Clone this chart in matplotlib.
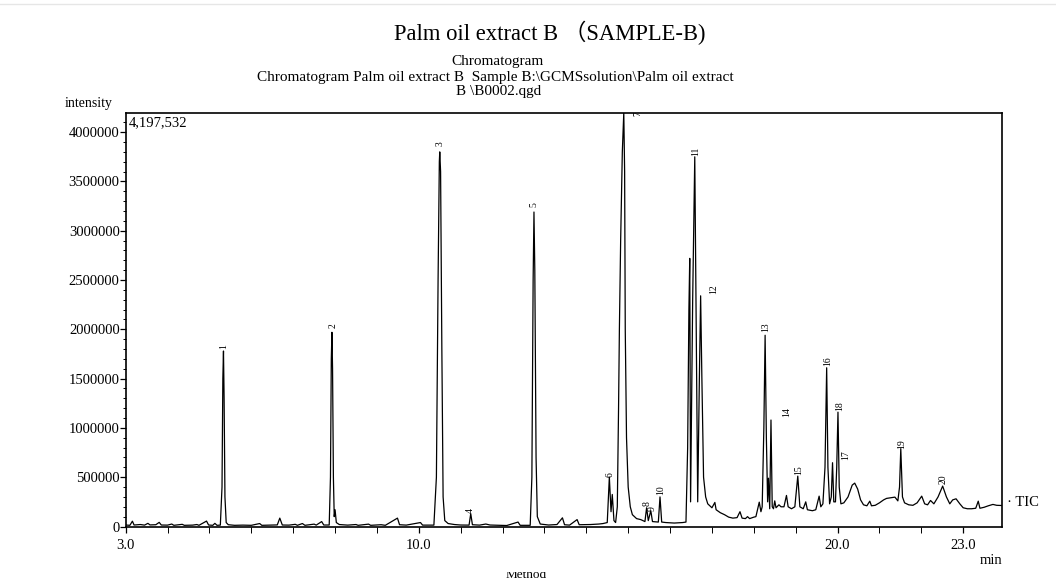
import matplotlib
matplotlib.use("Agg")
import matplotlib.pyplot as plt
from matplotlib.ticker import MultipleLocator, FixedLocator, FixedFormatter
from matplotlib.lines import Line2D
from matplotlib.patches import Rectangle

plt.rcParams['font.family'] = ['Liberation Serif', 'Noto Sans CJK SC', 'DejaVu Sans']

# ---------------- data ----------------
time_min = [
    3.00, 3.10, 3.16, 3.20, 3.35, 3.45, 3.53, 3.58, 3.72, 3.80, 3.85, 4.00, 4.10, 4.15,
    4.35, 4.40, 4.60, 4.70, 4.75, 4.93, 4.98, 5.08, 5.13, 5.18,
    5.26, 5.30, 5.32, 5.335, 5.35, 5.37, 5.40, 5.45,
    5.60, 5.80, 6.00, 6.20, 6.25, 6.45, 6.62, 6.68, 6.74, 6.90, 7.05, 7.10, 7.22, 7.28,
    7.50, 7.55, 7.68, 7.73,
    7.86, 7.89, 7.91, 7.925, 7.94, 7.96, 7.98, 8.00, 8.03, 8.10,
    8.30, 8.50, 8.55, 8.80, 8.85, 9.10, 9.20, 9.49, 9.54, 9.70, 10.04, 10.09,
    10.36, 10.42, 10.46, 10.49, 10.50, 10.52, 10.55, 10.58, 10.62, 10.70, 10.85,
    11.00, 11.20, 11.24, 11.28, 11.45, 11.60, 11.70, 11.90, 12.10, 12.37, 12.42,
    12.66, 12.70, 12.73, 12.75, 12.77, 12.80, 12.83, 12.90,
    13.10, 13.30, 13.43, 13.48, 13.60, 13.78, 13.83, 14.10, 14.30, 14.40,
    14.50, 14.55, 14.59, 14.62, 14.66, 14.70,
    14.74, 14.77, 14.79, 14.82, 14.86, 14.895, 14.915, 14.93, 14.96, 15.00, 15.05, 15.10,
    15.20, 15.30, 15.40, 15.44, 15.48, 15.54, 15.58, 15.72, 15.76, 15.80,
    15.90, 16.10, 16.30, 16.38,
    16.42, 16.45, 16.47, 16.49, 16.54, 16.59, 16.62, 16.66, 16.70, 16.73,
    16.76, 16.80, 16.85, 16.90, 16.95, 17.00, 17.07, 17.10, 17.20, 17.30, 17.40, 17.50,
    17.60, 17.67, 17.72, 17.80, 17.85, 17.90, 18.00, 18.05, 18.13, 18.17,
    18.20, 18.24, 18.27, 18.30, 18.33, 18.35, 18.38, 18.41, 18.44, 18.47, 18.50, 18.53,
    18.60, 18.65, 18.72, 18.78, 18.82, 18.90, 18.98, 19.05, 19.10, 19.18, 19.24, 19.28,
    19.40, 19.48, 19.56, 19.60, 19.65, 19.70, 19.74, 19.77, 19.81, 19.85, 19.88, 19.91,
    19.95, 19.98, 20.01, 20.04, 20.08, 20.15, 20.25, 20.35, 20.41, 20.48, 20.55, 20.62,
    20.70, 20.77, 20.81, 20.90, 21.00, 21.10, 21.17, 21.25, 21.37, 21.44, 21.48, 21.51,
    21.55, 21.60, 21.70, 21.80, 21.90, 22.01, 22.08, 22.15, 22.22, 22.30, 22.40, 22.51,
    22.60, 22.68, 22.75, 22.83, 22.92, 23.00, 23.10, 23.20, 23.30, 23.36, 23.40, 23.50,
    23.60, 23.71, 23.80, 23.92,
]
intensity = [
    15000, 12000, 54000, 15000, 20000, 14000, 32000, 16000, 18000, 42000, 15000, 14000, 25000, 12000,
    22000, 12000, 14000, 20000, 12000, 55000, 15000, 12000, 32000, 12000,
    14000, 400000, 1500000, 1780000, 1300000, 300000, 40000, 18000,
    12000, 14000, 12000, 30000, 12000, 14000, 16000, 85000, 15000, 14000, 22000, 12000, 30000, 12000,
    24000, 14000, 50000, 15000,
    15000, 500000, 1700000, 1970000, 1600000, 500000, 100000, 170000, 40000, 20000,
    14000, 20000, 12000, 24000, 12000, 18000, 12000, 85000, 18000, 14000, 40000, 14000,
    14000, 500000, 2500000, 3700000, 3800000, 3600000, 1800000, 300000, 60000, 30000, 20000,
    15000, 14000, 130000, 18000, 14000, 25000, 15000, 12000, 10000, 45000, 12000,
    12000, 500000, 2500000, 3190000, 2600000, 700000, 100000, 25000,
    15000, 20000, 88000, 18000, 14000, 70000, 18000, 20000, 25000, 30000,
    40000, 500000, 150000, 325000, 60000, 40000,
    200000, 1200000, 2000000, 2900000, 3800000, 4197532, 3600000, 2000000, 900000, 400000, 200000, 120000,
    80000, 70000, 50000, 190000, 60000, 160000, 50000, 45000, 300000, 45000,
    40000, 35000, 40000, 45000,
    800000, 2200000, 2720000, 250000, 2300000, 3750000, 2200000, 250000, 1500000, 2340000,
    1500000, 500000, 300000, 230000, 210000, 190000, 244000, 170000, 140000, 120000, 95000, 85000,
    90000, 150000, 85000, 80000, 100000, 80000, 95000, 100000, 247000, 150000,
    200000, 1000000, 1940000, 900000, 250000, 490000, 180000, 1080000, 200000, 180000, 260000, 190000,
    220000, 200000, 200000, 315000, 200000, 180000, 200000, 511000, 200000, 180000, 250000, 170000,
    160000, 170000, 308000, 200000, 230000, 600000, 1610000, 600000, 230000, 300000, 647000, 250000,
    250000, 600000, 1160000, 400000, 230000, 240000, 300000, 420000, 440000, 380000, 270000, 220000,
    210000, 257000, 210000, 215000, 240000, 270000, 285000, 290000, 298000, 260000, 400000, 790000,
    300000, 240000, 220000, 215000, 240000, 308000, 230000, 220000, 264000, 230000, 300000, 410000,
    300000, 230000, 270000, 281000, 230000, 190000, 180000, 180000, 185000, 257000, 185000, 195000,
    210000, 224000, 215000, 213000,
]

# peak labels: number, label time, label intensity (centre of the rotated text)
peak_ids = ["1", "2", "3", "4", "5", "6", "7", "8", "9", "10",
            "11", "12", "13", "14", "15", "16", "17", "18", "19", "20"]
peak_label_t = [5.335, 7.95, 10.50, 11.24, 12.75, 14.57, 15.24, 15.45, 15.58, 15.77,
                16.62, 17.03, 18.28, 18.78, 19.07, 19.76, 20.19, 20.05, 21.53, 22.53]
peak_label_i = [1830000, 2040000, 3880000, 160000, 3270000, 530000, 4190000, 230000, 180000, 370000,
                3810000, 2410000, 2020000, 1160000, 570000, 1680000, 720000, 1220000, 840000, 480000]

y_major = [0, 500000, 1000000, 1500000, 2000000, 2500000, 3000000, 3500000, 4000000]
y_labels = ["0", "500000", "1000000", "1500000", "2000000", "2500000", "3000000", "3500000", "4000000"]
x_major = [3.0, 10.0, 20.0, 23.0]
x_labels = ["3.0", "10.0", "20.0", "23.0"]
max_intensity = 4197532

# ---------------- figure ----------------
fig = plt.figure(figsize=(10.56, 5.82), dpi=100)
W, H = 1056, 582
ax = fig.add_axes([125.7 / W, 1 - 526.5 / H, (1001.7 - 125.7) / W, (526.5 - 112.7) / H])

ax.plot(time_min, intensity, color='black', lw=0.9)
ax.set_xlim(3.0, 23.92)
ax.set_ylim(0, max_intensity)

for s in ax.spines.values():
    s.set_linewidth(1.2)
    s.set_color('black')

ax.yaxis.set_major_locator(FixedLocator(y_major))
ax.yaxis.set_major_formatter(FixedFormatter(y_labels))
ax.yaxis.set_minor_locator(MultipleLocator(100000))
ax.xaxis.set_major_locator(FixedLocator(x_major))
ax.xaxis.set_major_formatter(FixedFormatter(x_labels))
ax.xaxis.set_minor_locator(MultipleLocator(1.0))
ax.tick_params(axis='both', which='major', direction='out', length=4, width=0.9,
               labelsize=10.5, pad=0.3)
ax.tick_params(axis='both', which='minor', direction='out', length=2.5, width=0.7)
ax.tick_params(axis='x', which='minor', length=4)
ax.tick_params(axis='x', which='major', pad=5)

for pid, pt, pi in zip(peak_ids, peak_label_t, peak_label_i):
    ax.text(pt, pi, pid, rotation=90, fontsize=7, ha='center', va='center', clip_on=True)

ax.text(0.003, 0.992, "4,197,532", transform=ax.transAxes, ha='left', va='top', fontsize=10.5)

# titles and outside texts
fig.text(550 / W, 1 - 33 / H, "Palm oil extract B （SAMPLE-B)", ha='center', va='center', fontsize=16.3)
fig.text(497 / W, 1 - 62 / H, "Chromatogram", ha='center', va='center', fontsize=11)
fig.text(495 / W, 1 - 77 / H,
         "Chromatogram Palm oil extract B  Sample B:\\GCMSsolution\\Palm oil extract",
         ha='center', va='center', fontsize=11)
fig.text(499 / W, 1 - 91 / H, "B \\B0002.qgd", ha='center', va='center', fontsize=11)
fig.text(65 / W, 1 - 103 / H, "intensity", ha='left', va='center', fontsize=10)
fig.text(1002 / W, 1 - 560 / H, "min", ha='right', va='center', fontsize=10.5)
fig.text(1007 / W, 1 - 502 / H, "· TIC", ha='left', va='center', fontsize=10.5)
fig.text(526 / W, 1 - 578 / H, "Method", ha='center', va='baseline', fontsize=9.5)
fig.add_artist(Rectangle((480 / W, 1 - 572 / H), 90 / W, 10 / H, transform=fig.transFigure,
                         facecolor='white', edgecolor='none', zorder=10))
fig.add_artist(Line2D([0, 1], [1 - 4 / H, 1 - 4 / H], transform=fig.transFigure,
                      color='#e6e6e6', lw=1.0))

fig.savefig("out.png", dpi=100)
